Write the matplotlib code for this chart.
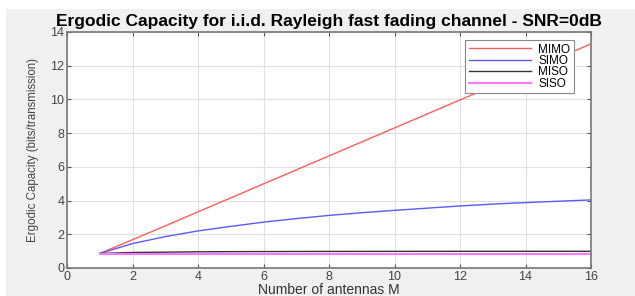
import numpy as np
import matplotlib
matplotlib.use('Agg')
import matplotlib.pyplot as plt
from matplotlib.patches import Rectangle

# antenner og kapasitet lest av figuren
M = np.arange(1, 17)
mimo = [0.86, 1.68, 2.50, 3.33, 4.16, 4.99, 5.82, 6.65, 7.48, 8.31, 9.14, 9.97, 10.80, 11.63, 12.46, 13.30]
simo = [0.86, 1.45, 1.86, 2.20, 2.47, 2.72, 2.93, 3.12, 3.28, 3.42, 3.55, 3.68, 3.79, 3.88, 3.96, 4.04]
miso = [0.86, 0.92, 0.94, 0.96, 0.97, 0.975, 0.98, 0.983, 0.985, 0.987, 0.988, 0.99, 0.99, 0.991, 0.992, 0.993]
siso = [0.86] * 16

plt.rcParams['font.family'] = ['Liberation Sans', 'DejaVu Sans']

fig = plt.figure(figsize=(6.35, 2.96), dpi=100, facecolor='white')
fig.patches.append(Rectangle((6/635, 0), 1, 1 - 9/296, transform=fig.transFigure,
                             facecolor='#f0f0f0', edgecolor='none', zorder=-10))

ax = fig.add_axes([67/635, 1 - 268/296, (591-67)/635, (268-32)/296])
ax.plot(M, mimo, color='#ff5c5c', lw=1.0, label='MIMO')
ax.plot(M, simo, color='#5a5aff', lw=1.0, label='SIMO')
ax.plot(M, miso, color='#333333', lw=1.0, label='MISO')
ax.plot(M, siso, color='#ff77ff', lw=1.5, label='SISO')

ax.set_xlim(0, 16)
ax.set_ylim(0, 14)
ax.set_xticks(range(0, 17, 2))
ax.set_yticks(range(0, 15, 2))
ax.grid(True, color='#e0e0e0', lw=0.8)
ax.set_axisbelow(True)
ax.tick_params(direction='in', length=3, top=True, right=True, labelsize=9,
               colors='#555555', labelcolor='#444444', pad=2)
for s in ax.spines.values():
    s.set_color('#777777')
    s.set_linewidth(1.2)

ax.set_title('Ergodic Capacity for i.i.d. Rayleigh fast fading channel - SNR=0dB',
             fontsize=12.5, fontweight='bold', pad=4)
ax.set_xlabel('Number of antennas M', fontsize=10, labelpad=0, color='#333333')
ax.set_ylabel('Ergodic Capacity (bits/transmission)', fontsize=8.3,
              color='#444444', labelpad=8)

leg = ax.legend(loc='upper right', bbox_to_anchor=((574-67)/524, (268-40)/236),
                borderaxespad=0, fontsize=8.5, handlelength=5.3, labelspacing=-0.05,
                fancybox=False, framealpha=1, edgecolor='#888888', borderpad=0.3,
                handletextpad=0.6)
leg.get_frame().set_linewidth(0.8)

fig.savefig('out.png', dpi=100)
